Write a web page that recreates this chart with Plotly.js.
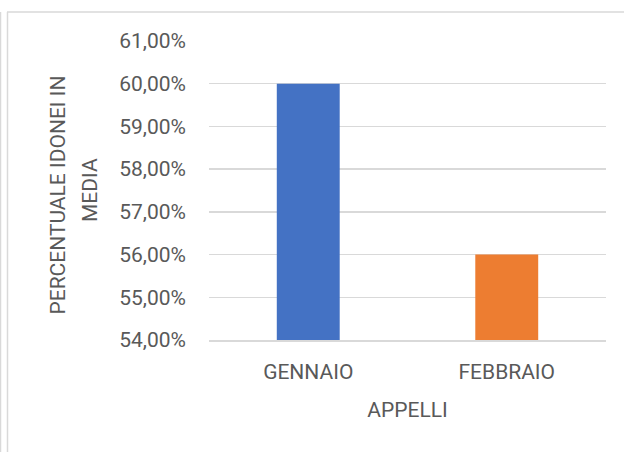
<!DOCTYPE html>
<html>
<head>
<meta charset="utf-8">
<script src="https://cdn.plot.ly/plotly-3.0.1.min.js"></script>
<style>
html,body{margin:0;padding:0;background:#fff;}
#chart{width:624px;height:452px;}
</style>
</head>
<body>
<div id="chart"></div>
<script>
const categories = ["GENNAIO", "FEBBRAIO"];
const values = [0.60, 0.56];
const barColors = ["#4472C4", "#ED7D31"];
const yTickVals = [0.54, 0.55, 0.56, 0.57, 0.58, 0.59, 0.60, 0.61];
const yTickText = ["54,00%", "55,00%", "56,00%", "57,00%", "58,00%", "59,00%", "60,00%", "61,00%"];
const xTitle = "APPELLI";
const yTitleLines = ["PERCENTUALE IDONEI IN", "MEDIA"];

const W = 624, H = 452;
const L = 209, R = 18, T = 41, B = 112;
const pw = W - L - R, ph = H - T - B;
const px = X => (X - L) / pw;
const py = Y => (H - B - Y) / ph;

const txt = "#595959";
const grid = "#d9d9d9";
const fontFam = "Roboto, 'Open Sans', sans-serif";

const data = [{
  type: "bar",
  x: categories,
  y: values,
  marker: {color: barColors},
  hoverinfo: "none"
}];

const layout = {
  width: W, height: H,
  margin: {l: L, r: R, t: T, b: B, pad: 0},
  paper_bgcolor: "#ffffff",
  plot_bgcolor: "#ffffff",
  showlegend: false,
  bargap: 0.683,
  font: {family: fontFam, size: 21, color: txt},
  xaxis: {
    type: "category",
    showgrid: false,
    showline: true,
    linecolor: grid,
    linewidth: 1.5,
    ticks: "",
    ticklabelstandoff: 12,
    tickfont: {family: fontFam, size: 21, color: txt},
    title: {text: xTitle, font: {family: fontFam, size: 21, color: txt}, standoff: 19},
    fixedrange: true
  },
  yaxis: {
    range: [0.54, 0.61],
    tickvals: yTickVals,
    ticktext: yTickText,
    showgrid: true,
    gridcolor: grid,
    gridwidth: 1.5,
    zeroline: false,
    showline: false,
    ticks: "",
    ticklabelstandoff: 22,
    tickfont: {family: fontFam, size: 21, color: txt},
    fixedrange: true
  },
  annotations: [
    {xref: "paper", yref: "paper", x: px(57.5), y: py(195), text: yTitleLines[0], textangle: -90,
     showarrow: false, xanchor: "center", yanchor: "middle", font: {family: fontFam, size: 21, color: txt}},
    {xref: "paper", yref: "paper", x: px(90), y: py(190), text: yTitleLines[1], textangle: -90,
     showarrow: false, xanchor: "center", yanchor: "middle", font: {family: fontFam, size: 21, color: txt}}
  ],
  shapes: [
    {type: "line", xref: "paper", yref: "paper", x0: px(7.5), x1: px(7.5), y0: py(12), y1: py(460), line: {color: grid, width: 1.5}},
    {type: "line", xref: "paper", yref: "paper", x0: px(0.5), x1: px(0.5), y0: py(12), y1: py(460), line: {color: grid, width: 1.5}},
    {type: "line", xref: "paper", yref: "paper", x0: px(7), x1: px(630), y0: py(12), y1: py(12), line: {color: grid, width: 1.5}}
  ]
};

Plotly.newPlot("chart", data, layout, {displayModeBar: false, staticPlot: true});
</script>
</body>
</html>
